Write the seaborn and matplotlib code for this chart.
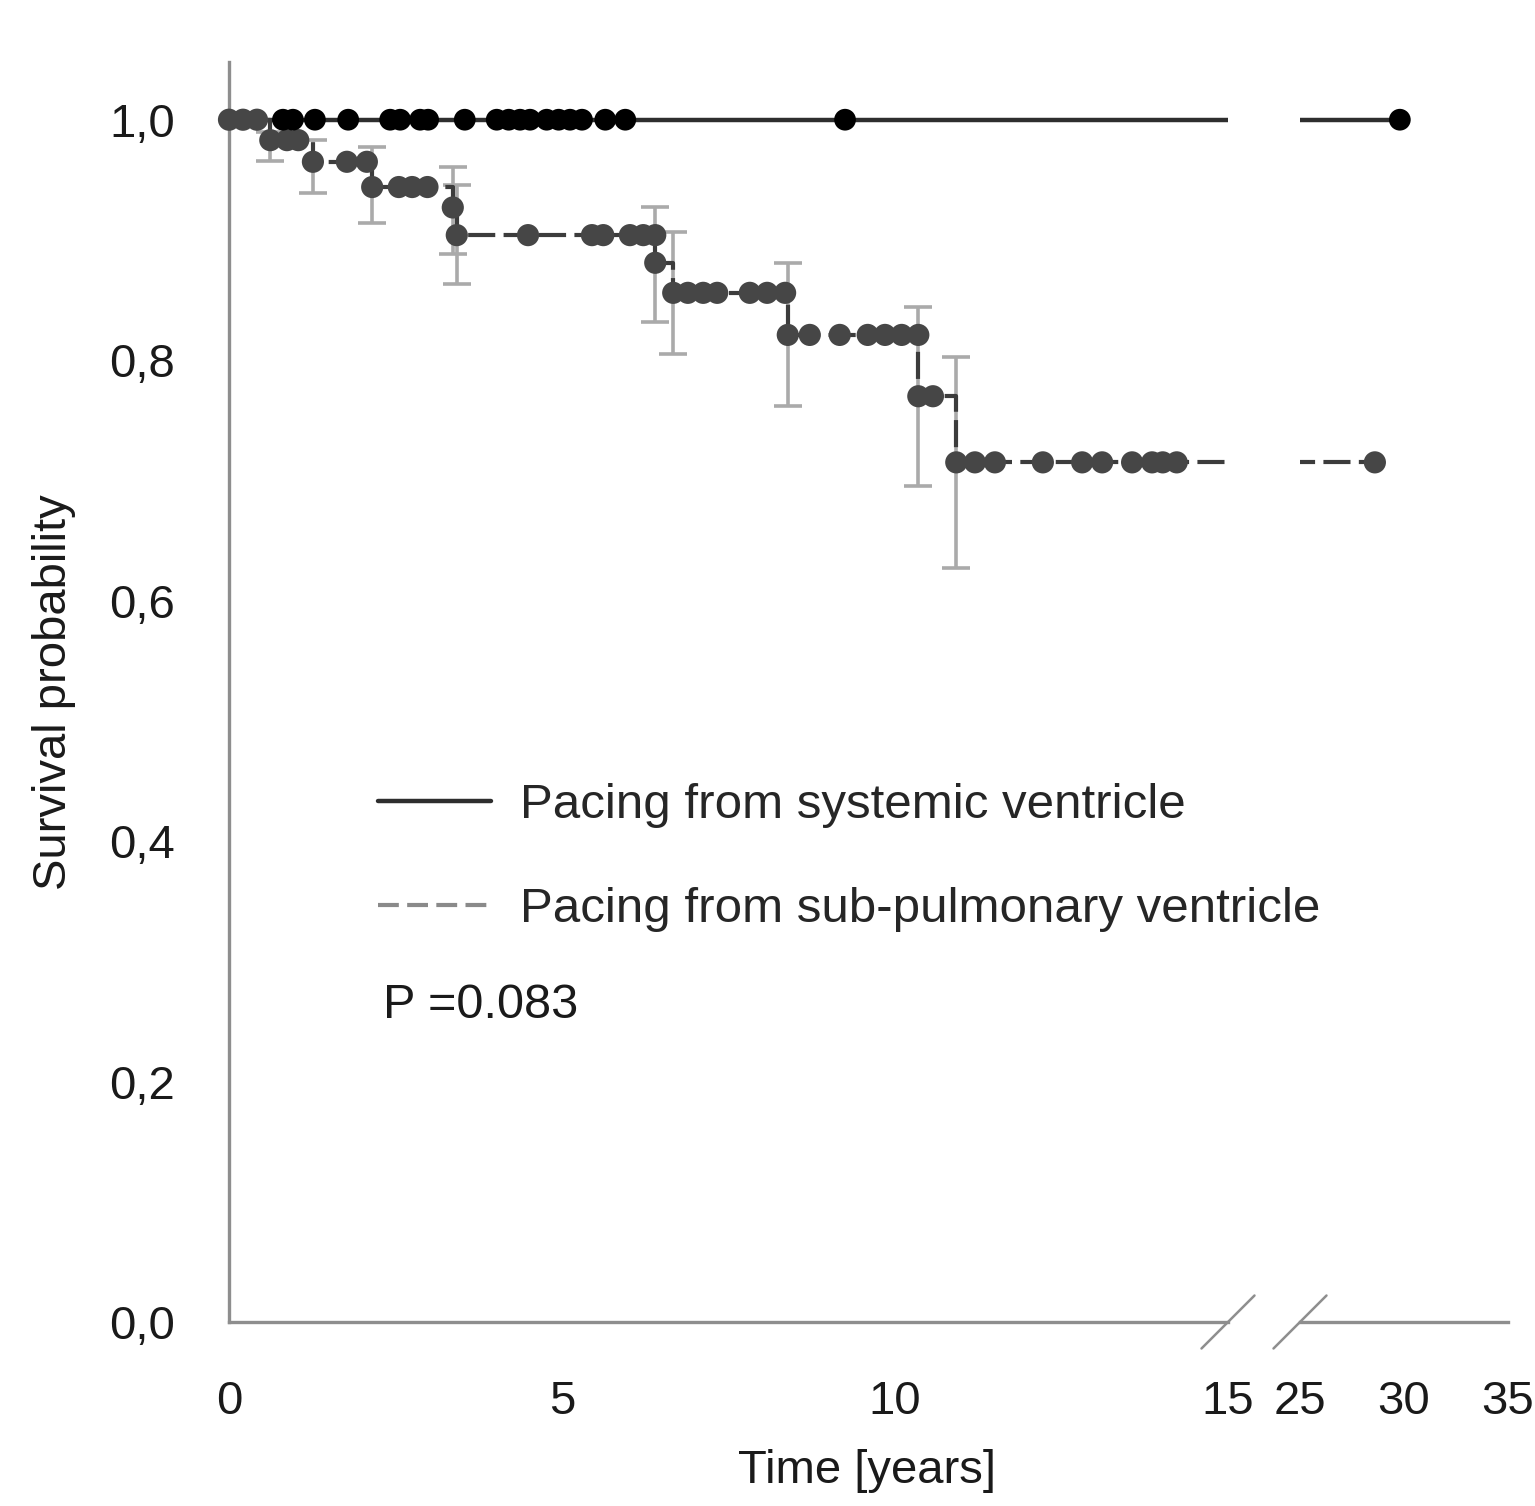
"""
Krzywe przeżycia Kaplana-Meiera — stymulacja z komory systemowej vs podpłucnej.
Oś czasu przerwana między 15 a 25 lat.
"""

import matplotlib
matplotlib.use('Agg')
import matplotlib.pyplot as plt
from matplotlib.lines import Line2D
from matplotlib.ticker import FuncFormatter
import seaborn as sns

# --- dane ---
# komora systemowa: brak zdarzeń, tylko obserwacje ucięte
sys_step_t = [0.0, 29.8]
sys_step_s = [1.0, 1.0]
sys_cens_t = [0.81, 0.96, 1.29, 1.79, 2.42, 2.57, 2.87, 2.99, 3.54, 4.02, 4.2,
              4.37, 4.52, 4.77, 4.95, 5.12, 5.3, 5.65, 5.95, 9.25, 29.8]

# komora podpłucna: schodki KM
sub_step_t = [0.0, 0.62, 1.26, 2.15, 3.36, 3.42, 6.40, 6.67, 8.39, 10.35, 10.92, 28.6]
sub_step_s = [1.0, 0.983, 0.965, 0.944, 0.927, 0.904, 0.881, 0.856, 0.821, 0.770, 0.715, 0.715]

# punkty (zdarzenia i obserwacje ucięte)
sub_mark_t = [0.0, 0.21, 0.42,
              0.62, 0.87, 1.04,
              1.26, 1.77, 2.07,
              2.15, 2.55, 2.75, 2.98,
              3.36,
              3.42, 4.49, 5.45, 5.62, 6.02, 6.22, 6.40,
              6.40,
              6.67, 6.89, 7.12, 7.33, 7.82, 8.08, 8.35,
              8.39, 8.72, 9.17, 9.59, 9.85, 10.1, 10.35,
              10.35, 10.57,
              10.92, 11.2, 11.5, 12.22, 12.81, 13.11, 13.56, 13.86, 14.02, 14.23, 28.6]
sub_mark_s = [1.0] * 3 + [0.983] * 3 + [0.965] * 3 + [0.944] * 4 + [0.927] + \
             [0.904] * 7 + [0.881] + [0.856] * 7 + [0.821] * 7 + [0.770] * 2 + [0.715] * 11

# przedziały ufności
ci_t = [0.62, 1.26, 2.15, 3.36, 3.42, 6.40, 6.67, 8.39, 10.35, 10.92]
ci_lo = [0.966, 0.939, 0.914, 0.888, 0.863, 0.832, 0.805, 0.762, 0.695, 0.627]
ci_hi = [0.990, 0.983, 0.977, 0.961, 0.946, 0.927, 0.907, 0.881, 0.844, 0.803]

y_ticks = [0.0, 0.2, 0.4, 0.6, 0.8, 1.0]
x_ticks_left = [0, 5, 10, 15]
x_ticks_right = [25, 30, 35]
labels = ['Pacing from systemic ventricle', 'Pacing from sub-pulmonary ventricle']
p_text = 'P =0.083'

sns.set_style('white')
plt.rcParams['font.family'] = ['Liberation Sans', 'DejaVu Sans']

SPINE = '#8e8e8e'
FS = 34

W, H = 1535, 1506
fig = plt.figure(figsize=(W / 100, H / 100), dpi=100)
bottom = (H - 1322) / H
height = (1322 - 62) / H
ax1 = fig.add_axes([229 / W, bottom, (1228 - 229) / W, height])
ax2 = fig.add_axes([1300 / W, bottom, 208 / W, height])
# przezroczyste tło, żeby prawa oś nie zasłaniała legendy
ax1.patch.set_visible(False)
ax2.patch.set_visible(False)


def draw_curves(ax, lo, hi):
    clip = ax is ax2
    # linia systemowa
    sns.lineplot(x=sys_step_t, y=sys_step_s, ax=ax, drawstyle='steps-post', estimator=None,
                 sort=False, color='#2e2e2e', linewidth=3.2, zorder=2)
    # linia podpłucna (przerywana)
    sns.lineplot(x=sub_step_t, y=sub_step_s, ax=ax, drawstyle='steps-post', estimator=None,
                 sort=False, color='#3c3c3c', linewidth=3, zorder=2.1)
    ax.lines[-1].set_dashes((6.5, 2))

    sel = [i for i, t in enumerate(ci_t) if lo <= t <= hi]
    if sel:
        t = [ci_t[i] for i in sel]
        mid = [(ci_lo[i] + ci_hi[i]) / 2 for i in sel]
        half = [(ci_hi[i] - ci_lo[i]) / 2 for i in sel]
        ax.errorbar(t, mid, yerr=half, fmt='none', ecolor='#aaaaaa', elinewidth=2.6,
                    capsize=10, capthick=2.6, zorder=1.5)

    mt = [t for t in sub_mark_t if lo <= t <= hi]
    ms = [s for t, s in zip(sub_mark_t, sub_mark_s) if lo <= t <= hi]
    sns.scatterplot(x=mt, y=ms, ax=ax, s=255, color='#464646', edgecolor='none',
                    clip_on=clip, zorder=3)
    ct = [t for t in sys_cens_t if lo <= t <= hi]
    sns.scatterplot(x=ct, y=[1.0] * len(ct), ax=ax, s=245, color='#000000', edgecolor='none',
                    clip_on=clip, zorder=4)


draw_curves(ax1, 0, 15)
draw_curves(ax2, 25, 35)

ylim = (0, 1.048)
ax1.set_xlim(0, 15)
ax2.set_xlim(25, 35)
for ax in (ax1, ax2):
    ax.set_ylim(*ylim)
    ax.set_xlabel('')
    ax.set_ylabel('')
    ax.tick_params(axis='both', direction='out', length=18.7, width=2.2, color=SPINE,
                   labelsize=FS, labelcolor='#1a1a1a')
    ax.tick_params(axis='x', pad=23)
    ax.tick_params(axis='y', pad=20)
    for side in ('bottom', 'left'):
        ax.spines[side].set_color(SPINE)
        ax.spines[side].set_linewidth(2.4)

sns.despine(ax=ax1)
sns.despine(ax=ax2, left=True)
ax2.tick_params(axis='y', left=False, labelleft=False)

ax1.set_xticks(x_ticks_left)
ax2.set_xticks(x_ticks_right)
ax1.set_yticks(y_ticks)
ax1.yaxis.set_major_formatter(FuncFormatter(lambda v, _: f'{v:.1f}'.replace('.', ',')))

ax1.set_ylabel('Survival probability', fontsize=FS, color='#1a1a1a')
ax1.yaxis.set_label_coords(-0.153, 0.5)
ax1.set_xlabel('Time [years]', fontsize=FS, color='#1a1a1a')
ax1.xaxis.set_label_coords(0.639, -0.101)

# znaczniki przerwania osi
dy = 26.5 / 1260
for ax, x0, d in ((ax1, 1.0, 26.5 / 999), (ax2, 0.0, 26.5 / 208)):
    ax.plot([x0 - d, x0 + d], [-dy, dy], transform=ax.transAxes, color=SPINE,
            linewidth=1.8, clip_on=False)

handles = [Line2D([], [], color='#2e2e2e', linewidth=3.2),
           Line2D([], [], color='#8a8a8a', linewidth=3, linestyle=(0, (5, 2)))]
ax1.legend(handles, labels, loc='upper left', bbox_to_anchor=(378 / W, 1 - 783 / H),
           bbox_transform=fig.transFigure, frameon=False, fontsize=35.5, handlelength=2.3,
           handletextpad=0.58, labelspacing=1.2, borderpad=0, borderaxespad=0)

fig.text(383 / W, 1 - 1005 / H, p_text, fontsize=35, ha='left', va='center', color='#1a1a1a')

fig.savefig('out.png', dpi=100)
